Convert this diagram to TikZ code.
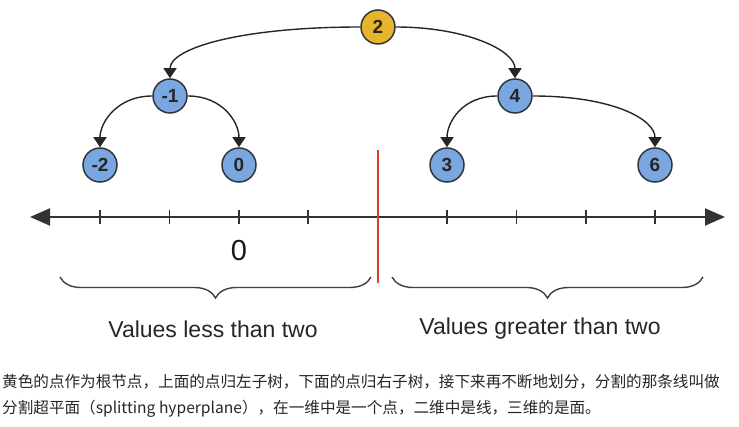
\documentclass[tikz,border=0pt]{standalone}
\usepackage{fontspec}
\setmainfont{Liberation Sans}
\newfontfamily\cjk{Noto Sans CJK SC}
\usetikzlibrary{arrows.meta,decorations.pathreplacing}
\definecolor{nodoazul}{HTML}{7AA7DF}
\definecolor{nodoamarillo}{HTML}{E8B42C}
\definecolor{borde}{HTML}{2F3640}
\definecolor{rojo}{HTML}{D8432D}
\tikzset{
  nodo/.style={circle,draw=borde,line width=1.5pt,fill=nodoazul,minimum size=34pt,inner sep=0pt,
    font=\fontsize{19}{20}\selectfont\bfseries,text=black!85},
  raiz/.style={nodo,fill=nodoamarillo},
  rama/.style={line width=1.4pt,draw=black!85,-{Triangle[width=13pt,length=10pt]}},
  llave/.style={decorate,decoration={brace,mirror,amplitude=21pt},line width=1.4pt,draw=black!75},
  rotulo/.style={font=\fontsize{23}{26}\selectfont,text=black!85},
  nota/.style={anchor=west,inner sep=0pt,font=\cjk\fontsize{15.6}{18}\selectfont,text=black!85}
}
\begin{document}
\begin{tikzpicture}[x=1pt,y=-1pt]
    \useasboundingbox (0,0) rectangle (739,427);

    % Eje
    \coordinate (izq) at (30,217);
    \coordinate (der) at (725,217);
    \draw[line width=2pt,black!80,{Triangle[width=17pt,length=20pt]}-{Triangle[width=17pt,length=20pt]}] (izq) -- (der);
    \foreach \i in {0,1,2,3,5,6,7,8}
        \draw[line width=1.5pt,black!80] (100+69.4*\i,210) -- (100+69.4*\i,224);

    % Hiperplano
    \draw[rojo,line width=2pt] (377.6,150) -- (377.6,283);

    % Nodos
    \node[raiz] (n2) at (378,27) {2};
    \node[nodo] (m1) at (170,96) {-1};
    \node[nodo] (n4) at (515,96) {4};
    \node[nodo] (m2) at (100,165) {-2};
    \node[nodo] (n0) at (239,165) {0};
    \node[nodo] (n3) at (447,165) {3};
    \node[nodo] (n6) at (655,165) {6};

    % Ramas
    \draw[rama] (n2.west) .. controls +(-120,0) and +(0,-30) .. (m1.north);
    \draw[rama] (n2.east) .. controls +(70,0) and +(0,-28) .. (n4.north);
    \draw[rama] (m1.west) .. controls +(-35,0) and +(0,-25) .. (m2.north);
    \draw[rama] (m1.east) .. controls +(35,0) and +(0,-25) .. (n0.north);
    \draw[rama] (n4.west) .. controls +(-35,0) and +(0,-25) .. (n3.north);
    \draw[rama] (n4.east) .. controls +(80,0) and +(0,-28) .. (n6.north);

    % Llaves
    \coordinate (a1) at (60,277);
    \coordinate (a2) at (371,277);
    \coordinate (b1) at (392,277);
    \coordinate (b2) at (703,277);
    \draw[llave] (a1) -- (a2);
    \draw[llave] (b1) -- (b2);

    % Etiquetas
    \node[font=\fontsize{29}{30}\selectfont,text=black!90] (cero) at (239,251) {0};
    \node[rotulo] (menor) at (213,329) {Values less than two};
    \node[rotulo] (mayor) at (540,329) {Values greater than two};
    \node[nota] (nota1) at (2,382) {黄色的点作为根节点，上面的点归左子树，下面的点归右子树，接下来再不断地划分，分割的那条线叫做};
    \node[nota] (nota2) at (2,409) {分割超平面（splitting hyperplane），在一维中是一个点，二维中是线，三维的是面。};
\end{tikzpicture}
\end{document}
